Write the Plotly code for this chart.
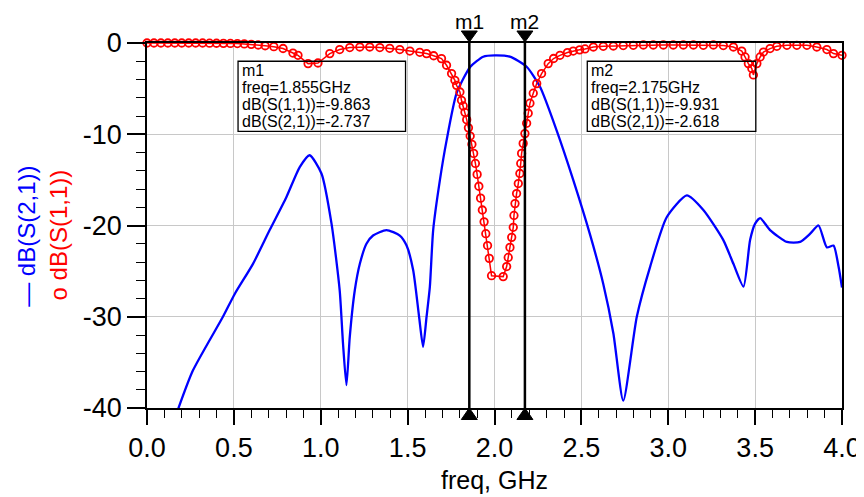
import plotly.graph_objects as go

# ---------------- data ----------------
freq_s21 = [0.170, 0.264, 0.437, 0.505, 0.610, 0.706, 0.802, 0.879, 0.936, 1.004,
            1.062, 1.109, 1.128, 1.148, 1.167, 1.196, 1.225, 1.263, 1.301,
            1.378, 1.455, 1.494, 1.532, 1.566, 1.589, 1.609, 1.628, 1.647, 1.686,
            1.724, 1.782, 1.861, 1.935, 2.002, 2.088, 2.185, 2.262, 2.358, 2.453,
            2.550, 2.626, 2.684, 2.741, 2.819, 2.896, 2.991, 3.107, 3.202,
            3.317, 3.375, 3.433, 3.471, 3.500, 3.529, 3.586, 3.683, 3.759, 3.817,
            3.865, 3.913, 3.951, 3.980, 4.000]
db_s21 = [-40.6, -35.9, -30.0, -27.5, -24.2, -20.5, -16.9, -13.6, -12.3, -14.3,
          -19.8, -27.1, -32.9, -37.5, -32.2, -27.1, -24.2, -22.0, -21.1,
          -20.5, -21.1, -22.2, -24.9, -30.0, -33.3, -30.0, -26.7, -20.5, -15.0,
          -10.7, -5.5, -2.6, -1.5, -1.35, -1.5, -2.6, -4.8, -9.6, -15.0,
          -21.0, -26.4, -31.8, -39.2, -30.0, -24.5, -19.1, -16.7, -18.3,
          -21.6, -24.2, -26.7, -21.6, -19.8, -19.2, -20.5, -21.8, -21.8, -20.9,
          -20.0, -22.4, -22.2, -24.5, -26.8]

freq_s11 = [0.00, 0.04, 0.08, 0.12, 0.16, 0.20, 0.24, 0.28, 0.32, 0.36,
            0.40, 0.44, 0.48, 0.52, 0.56, 0.60, 0.64, 0.68, 0.73, 0.783,
            0.840, 0.869, 0.927, 0.984, 1.052, 1.109, 1.167, 1.225, 1.282, 1.340,
            1.397, 1.455, 1.513, 1.570, 1.609, 1.650, 1.695, 1.724, 1.753, 1.772,
            1.782, 1.801, 1.810, 1.820, 1.830, 1.840, 1.850, 1.860, 1.870, 1.880,
            1.890, 1.900, 1.910, 1.920, 1.930, 1.940, 1.950, 1.960, 1.970, 1.983,
            2.050, 2.070, 2.079, 2.089, 2.099, 2.108, 2.112, 2.118, 2.127, 2.137,
            2.146, 2.151, 2.156, 2.165, 2.175, 2.185, 2.194, 2.204, 2.223, 2.243,
            2.271, 2.309, 2.340, 2.377, 2.420, 2.453, 2.490, 2.521, 2.569, 2.626,
            2.684, 2.741, 2.799, 2.857, 2.914, 2.972, 3.029, 3.087, 3.145, 3.202,
            3.260, 3.317, 3.375, 3.423, 3.442, 3.461, 3.481, 3.490, 3.510, 3.529,
            3.548, 3.586, 3.625, 3.683, 3.740, 3.798, 3.855, 3.913, 3.951, 4.000]
db_s11 = [0.0, 0.0, 0.0, 0.0, 0.0, 0.0, 0.0, 0.0, 0.0, -0.02,
          -0.03, -0.04, -0.05, -0.06, -0.10, -0.15, -0.22, -0.30, -0.40, -0.60,
          -1.10, -1.35, -2.26, -2.19, -1.16, -0.72, -0.50, -0.44, -0.44, -0.50,
          -0.58, -0.72, -0.88, -1.02, -1.16, -1.40, -1.71, -2.44, -3.35, -4.09,
          -4.64, -5.37, -6.28, -6.90, -7.60, -8.40, -9.30, -10.2, -11.1, -12.1,
          -13.2, -14.4, -15.7, -17.0, -18.3, -19.6, -20.9, -22.2, -23.6, -25.5,
          -25.6, -24.5, -23.5, -22.4, -21.3, -20.2, -18.9, -17.6, -16.5, -15.4,
          -14.3, -13.2, -12.1, -11.0, -9.93, -8.80, -7.70, -6.60, -5.50, -4.45,
          -3.35, -2.26, -1.70, -1.35, -1.05, -0.88, -0.75, -0.65, -0.44, -0.36,
          -0.33, -0.28, -0.25, -0.22, -0.22, -0.22, -0.22, -0.22, -0.22, -0.25,
          -0.22, -0.28, -0.44, -0.88, -1.53, -2.26, -2.80, -3.50, -2.26, -1.53,
          -0.99, -0.61, -0.36, -0.25, -0.25, -0.25, -0.44, -0.72, -1.16, -1.35]

marker_names = ["m1", "m2"]
marker_freq = [1.855, 2.175]
marker_s11 = [-9.863, -9.931]
marker_s21 = [-2.737, -2.618]

x_tick_vals = [0.0, 0.5, 1.0, 1.5, 2.0, 2.5, 3.0, 3.5, 4.0]
x_tick_text = ["0.0", "0.5", "1.0", "1.5", "2.0", "2.5", "3.0", "3.5", "4.0"]
y_tick_vals = [0, -10, -20, -30, -40]
y_tick_text = ["0", "-10", "-20", "-30", "-40"]

BLUE = "#0000FF"
RED = "#FF0000"
FONT = "Arial, Liberation Sans, sans-serif"

fig = go.Figure()
fig.add_trace(go.Scatter(
    x=freq_s21, y=db_s21, mode="lines", name="dB(S(2,1))",
    line=dict(color=BLUE, width=2.3, shape="spline", smoothing=0.6),
))
fig.add_trace(go.Scatter(
    x=freq_s11, y=db_s11, mode="lines+markers", name="dB(S(1,1))",
    line=dict(color=RED, width=1.5),
    marker=dict(symbol="circle-open", size=7.5, color=RED, line=dict(width=1.8, color=RED)),
    cliponaxis=False,
))

axis_common = dict(
    showline=True, linecolor="black", linewidth=1.5, mirror=True,
    showgrid=True, gridcolor="#C8C8C8", gridwidth=1, zeroline=False,
    ticks="outside", tickcolor="black", tickwidth=1.5,
    tickfont=dict(size=27, family=FONT, color="black"),
    automargin=False,
)
fig.update_xaxes(range=[0, 4], tickmode="array", tickvals=x_tick_vals, ticktext=x_tick_text,
                 ticklen=15,
                 minor=dict(dtick=0.1, tick0=0, ticks="outside", ticklen=8, tickcolor="black",
                            tickwidth=1.2, showgrid=False),
                 **axis_common)
fig.update_yaxes(range=[-40, 0], tickmode="array", tickvals=y_tick_vals, ticktext=y_tick_text,
                 ticklen=18,
                 minor=dict(dtick=2, tick0=0, ticks="outside", ticklen=9, tickcolor="black",
                            tickwidth=1.2, showgrid=False),
                 **axis_common)

shapes = []
annotations = []
box_x = [(0.524, 1.488), (2.534, 3.504)]
text_x = [0.543, 2.550]
line_y = [-2.98, -4.85, -6.72, -8.55]
for i, name in enumerate(marker_names):
    f = marker_freq[i]
    # marker vertical line
    shapes.append(dict(type="line", xref="x", yref="paper", x0=f, x1=f, y0=0, y1=1,
                       line=dict(color="black", width=2.5), layer="above"))
    # top triangle (pointing down)
    shapes.append(dict(type="path", xref="x", yref="paper", xsizemode="pixel", ysizemode="pixel",
                       xanchor=f, yanchor=1, path="M -8,12 L 8,12 L 0,1 Z",
                       fillcolor="black", line=dict(color="black", width=1)))
    # bottom triangle (pointing up)
    shapes.append(dict(type="path", xref="x", yref="paper", xsizemode="pixel", ysizemode="pixel",
                       xanchor=f, yanchor=0, path="M -8,-11.5 L 8,-11.5 L 0,0 Z",
                       fillcolor="black", line=dict(color="black", width=1)))
    # readout box
    shapes.append(dict(type="rect", xref="x", yref="y", x0=box_x[i][0], x1=box_x[i][1],
                       y0=-2.0, y1=-9.68, line=dict(color="black", width=1.3),
                       fillcolor="rgba(0,0,0,0)", layer="above"))
    lines = [name,
             "freq=%.3fGHz" % f,
             "dB(S(1,1))=%.3f" % marker_s11[i],
             "dB(S(2,1))=%.3f" % marker_s21[i]]
    for j, t in enumerate(lines):
        annotations.append(dict(x=text_x[i], y=line_y[j], xref="x", yref="y", text=t,
                                showarrow=False, xanchor="left", yanchor="middle", borderpad=0,
                                font=dict(size=16, family=FONT, color="black")))
    # marker name label above plot
    annotations.append(dict(x=f, y=1.0595, xref="x", yref="paper", text=name, showarrow=False,
                            xanchor="center", yanchor="middle", borderpad=0,
                            font=dict(size=21, family=FONT, color="black")))

# y-axis legend (rotated)
annotations.append(dict(x=-0.1726, y=0.469, xref="paper", yref="paper", text="— dB(S(2,1))",
                        textangle=-90, showarrow=False, xanchor="center", yanchor="middle",
                        font=dict(size=24, family=FONT, color=BLUE)))
annotations.append(dict(x=-0.128, y=0.473, xref="paper", yref="paper", text="o dB(S(1,1))",
                        textangle=-90, showarrow=False, xanchor="center", yanchor="middle",
                        font=dict(size=24, family=FONT, color=RED)))
# x-axis title
annotations.append(dict(x=0.5, y=-0.198, xref="paper", yref="paper", text="freq, GHz",
                        showarrow=False, xanchor="center", yanchor="middle", borderpad=0,
                        font=dict(size=25, family=FONT, color="black")))

# page body has an 8px margin, so the figure is sized/positioned to compensate
fig.update_layout(
    width=856, height=489,
    margin=dict(l=139.4, r=22, t=34.7, b=89.3),
    paper_bgcolor="white", plot_bgcolor="white",
    showlegend=False,
    font=dict(family=FONT, color="black"),
    shapes=shapes, annotations=annotations,
)

fig.write_html("out.html")
